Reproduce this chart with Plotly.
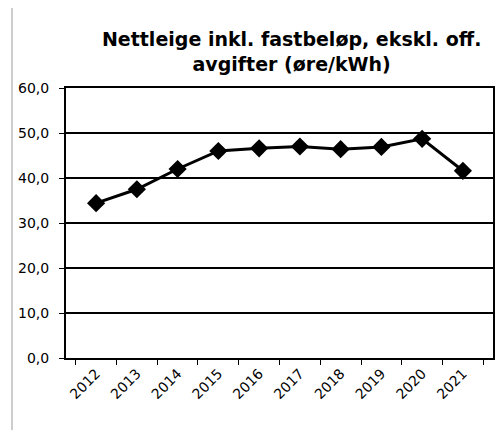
import plotly.graph_objects as go

years = ["2012", "2013", "2014", "2015", "2016", "2017", "2018", "2019", "2020", "2021"]
nettleie = [34.4, 37.5, 42.0, 46.0, 46.6, 47.0, 46.4, 46.9, 48.7, 41.6]

FONT = "DejaVu Sans, Verdana, sans-serif"

fig = go.Figure()
fig.add_trace(go.Scatter(
    x=years, y=nettleie, mode="lines+markers",
    line=dict(color="black", width=3),
    marker=dict(symbol="diamond", size=14, color="black"),
    showlegend=False))

# grå ramme-linje til venstre
fig.add_shape(type="line", xref="paper", yref="paper",
              x0=-0.1265, x1=-0.1265, y0=1.296, y1=-0.267,
              line=dict(color="#9a9a9a", width=1))

fig.update_layout(
    width=496, height=446, autosize=False,
    margin=dict(l=66, r=3, t=88, b=88, autoexpand=False),
    paper_bgcolor="white", plot_bgcolor="white",
    separators=", ",
    font=dict(family=FONT, size=14, color="black"),
    title=dict(text="<b>Nettleige inkl. fastbeløp, ekskl. off.<br>avgifter (øre/kWh)</b>",
               x=0.588, xanchor="center", y=0.897, yanchor="middle",
               font=dict(family=FONT, size=19, color="black")),
)
fig.update_xaxes(type="category", showgrid=False, showline=True, linecolor="black",
                 linewidth=2, mirror=True, ticks="outside", tickson="boundaries",
                 ticklen=5, tickcolor="black", tickangle=-45, automargin=False,
                 tickfont=dict(family=FONT, size=14))
fig.update_yaxes(range=[0, 60], dtick=10, tickformat=".1f", showgrid=True,
                 gridcolor="black", gridwidth=1.5, showline=True, linecolor="black",
                 linewidth=2, mirror=True, ticks="outside", ticklen=5, tickcolor="black",
                 ticklabelstandoff=7, zeroline=False, automargin=False,
                 tickfont=dict(family=FONT, size=14))

fig.write_html("out.html", config={"displayModeBar": False},
               post_script="document.body.style.margin='0';document.body.style.overflow='hidden';")
